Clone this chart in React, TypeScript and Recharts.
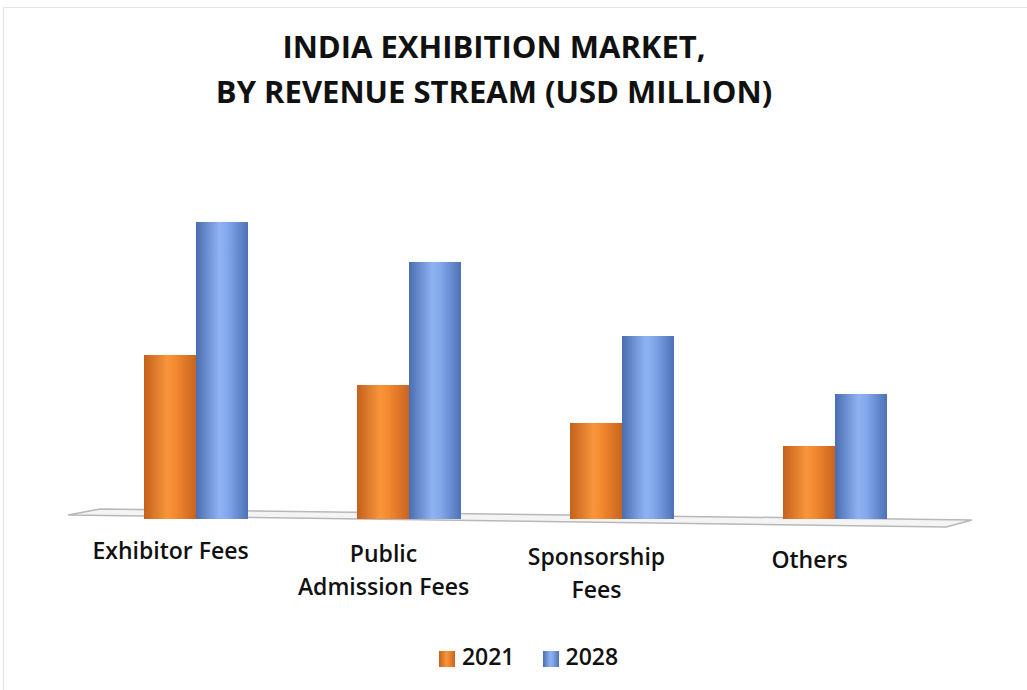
import { BarChart, Bar, XAxis, YAxis, Legend } from "recharts";

const categories = [
  "Exhibitor Fees",
  "Public\nAdmission Fees",
  "Sponsorship\nFees",
  "Others",
];
const values2021 = [164, 134, 96, 73];
const values2028 = [297, 257, 183, 125];

const data = categories.map((name, i) => ({
  name,
  y2021: values2021[i],
  y2028: values2028[i],
}));

const FONT = "'Open Sans', 'Liberation Sans', sans-serif";

function CategoryTick(props: any) {
  const { x, y, payload, index } = props;
  const lines = String(payload.value).split("\n");
  return (
    <g transform={`translate(${x - 25},${y + 32 + index * 3})`}>
      {lines.map((line: string, i: number) => (
        <text
          key={i}
          x={0}
          y={i * 33}
          textAnchor="middle"
          fontFamily={FONT}
          fontSize={23}
          fontWeight={600}
          fill="#111"
        >
          {line}
        </text>
      ))}
    </g>
  );
}

export default function App() {
  return (
    <div
      style={{
        position: "absolute",
        left: 0,
        top: 0,
        width: 1027,
        height: 690,
        background: "#fff",
        fontFamily: FONT,
      }}
    >
      <div
        style={{
          position: "absolute",
          left: 3,
          top: 7,
          width: 1030,
          height: 690,
          borderLeft: "1px solid #e4e4e4",
          borderTop: "1px solid #e4e4e4",
        }}
      />
      <div
        style={{
          position: "absolute",
          left: 0,
          top: 24,
          width: 988,
          textAlign: "center",
          fontSize: 31,
          fontWeight: 700,
          lineHeight: "45px",
          color: "#111",
        }}
      >
        INDIA EXHIBITION MARKET,
        <br />
        BY REVENUE STREAM (USD MILLION)
      </div>
      <svg
        width={1027}
        height={690}
        style={{ position: "absolute", left: 0, top: 0 }}
      >
        <polygon
          points="68,515 100,509 972,520 946,527"
          fill="#f4f4f4"
          stroke="#b8b8b8"
          strokeWidth={1.5}
        />
      </svg>
      <div style={{ position: "absolute", left: 0, top: 0 }}>
        <BarChart
          width={1027}
          height={690}
          data={data}
          margin={{ top: 219, right: 86, bottom: 0, left: 89 }}
          barGap={0}
          barSize={52}
        >
          <defs>
            <linearGradient id="gOrange" x1="0" y1="0" x2="1" y2="0">
              <stop offset="0%" stopColor="#c4611c" />
              <stop offset="45%" stopColor="#f8953c" />
              <stop offset="60%" stopColor="#f48a30" />
              <stop offset="100%" stopColor="#c8641e" />
            </linearGradient>
            <linearGradient id="gBlue" x1="0" y1="0" x2="1" y2="0">
              <stop offset="0%" stopColor="#4a6db0" />
              <stop offset="45%" stopColor="#8fb2f2" />
              <stop offset="60%" stopColor="#84a8ec" />
              <stop offset="100%" stopColor="#4e72b6" />
            </linearGradient>
          </defs>
          <XAxis
            dataKey="name"
            axisLine={false}
            tickLine={false}
            interval={0}
            height={139}
            tick={<CategoryTick />}
          />
          <YAxis hide domain={[0, 300]} />
          <Legend
            verticalAlign="bottom"
            iconType="square"
            iconSize={16}
            wrapperStyle={{
              bottom: 18,
              fontFamily: FONT,
              fontSize: 23,
              fontWeight: 600,
              left: 0,
              width: 1085,
              lineHeight: "32px",
            }}
            formatter={(value) => (
              <span style={{ color: "#111", marginLeft: 3, marginRight: 18 }}>
                {value}
              </span>
            )}
          />
          <Bar
            dataKey="y2021"
            name="2021"
            fill="url(#gOrange)"
            legendType="square"
            isAnimationActive={false}
          />
          <Bar
            dataKey="y2028"
            name="2028"
            fill="url(#gBlue)"
            legendType="square"
            isAnimationActive={false}
          />
        </BarChart>
      </div>
    </div>
  );
}
